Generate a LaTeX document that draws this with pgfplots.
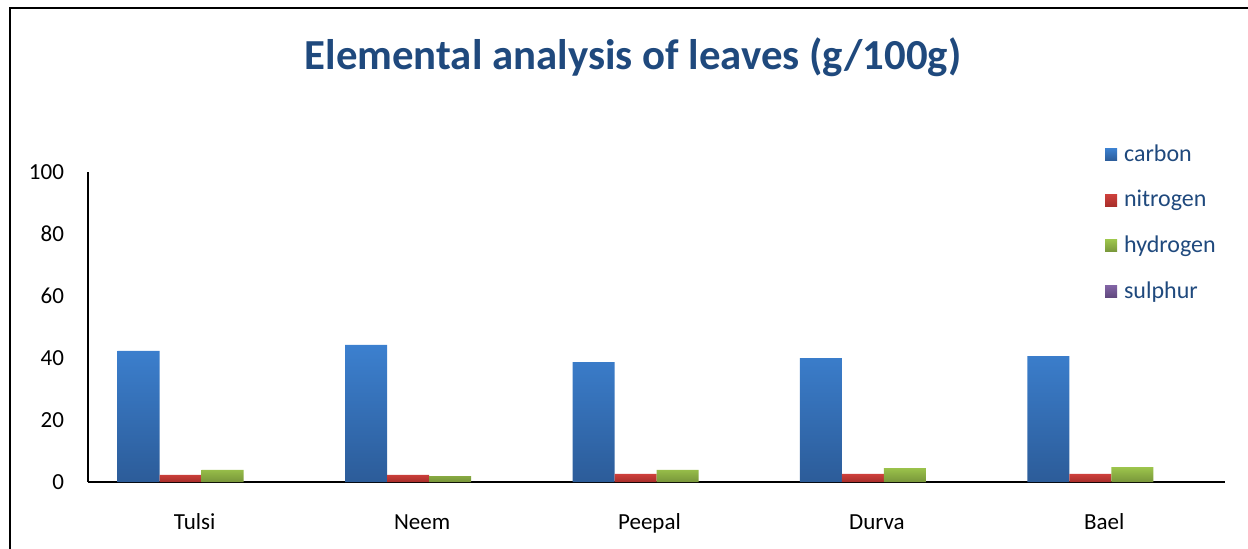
\documentclass[border=0pt]{standalone}
\usepackage{fontspec}
\setmainfont{Carlito}
\usepackage{pgfplots}
\pgfplotsset{compat=1.18}
\definecolor{titleblue}{RGB}{31,73,125}
\definecolor{cTop}{RGB}{60,128,207}
\definecolor{cBot}{RGB}{44,92,153}
\definecolor{nTop}{RGB}{206,64,60}
\definecolor{nBot}{RGB}{168,46,42}
\definecolor{hTop}{RGB}{157,197,76}
\definecolor{hBot}{RGB}{120,150,58}
\definecolor{sTop}{RGB}{130,100,165}
\definecolor{sBot}{RGB}{96,72,125}
\begin{document}
\begin{tikzpicture}
\useasboundingbox (0pt,0pt) rectangle (624pt,274pt);
\draw[line width=1.2pt] (5pt,-10pt) -- (5pt,270pt) -- (635pt,270pt);
\node[font=\fontsize{21.4}{26}\selectfont\bfseries, text=titleblue] at (316.5pt,245.5pt) {Elemental analysis of leaves (g/100g)};
\begin{axis}[
  at={(44pt,33pt)}, anchor=south west,
  width=568.5pt, height=155pt, scale only axis,
  xmin=-0.5, xmax=4.5, ymin=0, ymax=100,
  ybar=0pt, bar width=21pt,
  xtick={0,1,2,3,4},
  xticklabels={Tulsi,Neem,Peepal,Durva,Bael},
  ytick={0,20,40,60,80,100},
  axis x line*=bottom, axis y line*=left,
  x axis line style={line width=1.4pt, -},
  y axis line style={line width=0.6pt, -},
  major tick length=0pt,
  tick style={draw=none},
  tick label style={font=\fontsize{11.5}{14}\selectfont, text=black},
  yticklabel style={xshift=-8.5pt},
  xticklabel style={anchor=base, yshift=-23.5pt, xshift=-3.5pt},
  /pgf/number format/assume math mode=true,
  legend image code/.code={\fill[#1] (0pt,-3pt) rectangle (6pt,3pt); \path (6pt,0pt) -- (7.5pt,0pt);},
  legend style={at={(0.8889,1.115)}, anchor=north west, draw=none, fill=none,
    font=\fontsize{12}{14}\selectfont, text=titleblue, row sep=9pt,
    /tikz/every even column/.append style={column sep=0pt}},
  legend cell align=left,
]
\addplot[draw=none, top color=cTop, bottom color=cBot] coordinates {(0,42.3) (1,44.2) (2,38.7) (3,40.0) (4,40.6)};
\addplot[draw=none, top color=nTop, bottom color=nBot] coordinates {(0,2.3) (1,2.3) (2,2.6) (3,2.6) (4,2.6)};
\addplot[draw=none, top color=hTop, bottom color=hBot] coordinates {(0,3.9) (1,1.9) (2,3.9) (3,4.5) (4,4.8)};
\addplot[draw=none, top color=sTop, bottom color=sBot] coordinates {(0,0) (1,0) (2,0) (3,0) (4,0)};
\legend{carbon,nitrogen,hydrogen,sulphur}
\end{axis}
\end{tikzpicture}
\end{document}
